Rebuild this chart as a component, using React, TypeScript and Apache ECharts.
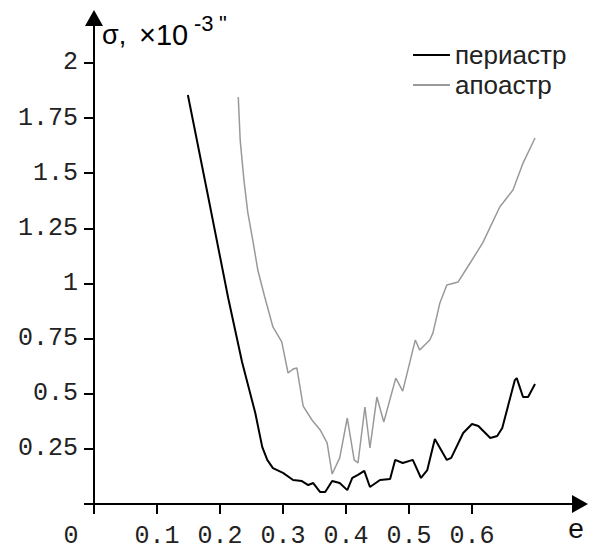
import React, { useEffect, useRef } from "react";
import * as echarts from "echarts";

// периастр (black)
const periE = [0.149, 0.181, 0.213, 0.235, 0.256, 0.267, 0.275, 0.284, 0.300, 0.316, 0.330, 0.340, 0.348, 0.359, 0.367, 0.378, 0.390, 0.402, 0.410, 0.419, 0.429, 0.438, 0.454, 0.470, 0.478, 0.490, 0.506, 0.519, 0.529, 0.541, 0.560, 0.567, 0.586, 0.600, 0.610, 0.629, 0.640, 0.648, 0.668, 0.671, 0.681, 0.689, 0.700];
const periV = [1.855, 1.397, 0.934, 0.644, 0.413, 0.259, 0.200, 0.163, 0.141, 0.109, 0.104, 0.086, 0.095, 0.054, 0.054, 0.104, 0.095, 0.063, 0.118, 0.132, 0.150, 0.077, 0.109, 0.113, 0.200, 0.186, 0.200, 0.118, 0.154, 0.295, 0.200, 0.209, 0.322, 0.363, 0.354, 0.299, 0.308, 0.345, 0.562, 0.571, 0.485, 0.485, 0.544];

// апоастр (gray)
const apoE = [0.229, 0.232, 0.238, 0.244, 0.252, 0.260, 0.271, 0.284, 0.298, 0.308, 0.316, 0.322, 0.332, 0.346, 0.359, 0.370, 0.378, 0.390, 0.402, 0.413, 0.419, 0.430, 0.438, 0.449, 0.460, 0.479, 0.490, 0.510, 0.517, 0.533, 0.538, 0.549, 0.560, 0.578, 0.597, 0.617, 0.644, 0.665, 0.681, 0.700];
const apoV = [1.846, 1.651, 1.469, 1.324, 1.197, 1.061, 0.939, 0.803, 0.735, 0.594, 0.612, 0.617, 0.444, 0.381, 0.336, 0.277, 0.136, 0.209, 0.390, 0.200, 0.186, 0.440, 0.254, 0.485, 0.372, 0.571, 0.512, 0.744, 0.698, 0.744, 0.776, 0.912, 0.993, 1.007, 1.093, 1.184, 1.347, 1.424, 1.546, 1.660];

const seriesNames = ["периастр", "апоастр"];
const xTicks = [0, 0.1, 0.2, 0.3, 0.4, 0.5, 0.6];
const yTicks = [0, 0.25, 0.5, 0.75, 1, 1.25, 1.5, 1.75, 2];
const yLabels = [0.25, 0.5, 0.75, 1, 1.25, 1.5, 1.75, 2];
const xMax = 0.7714;
const yMax = 2.204;

const zip = (a: number[], b: number[]) => a.map((v, i) => [v, b[i]]);

export default function App() {
  const ref = useRef<HTMLDivElement>(null);
  useEffect(() => {
    const chart = echarts.init(ref.current!, null, { renderer: "svg" });
    const mono = "Liberation Mono";
    const sans = "Liberation Sans";
    chart.setOption({
      animation: false,
      backgroundColor: "#fff",
      grid: { left: 94, right: 16, top: 18, bottom: 46, containLabel: false },
      legend: {
        left: 413,
        top: 42,
        padding: 0,
        orient: "vertical",
        icon: "rect",
        itemWidth: 37,
        itemHeight: 2,
        itemGap: 4,
        textStyle: { fontFamily: sans, fontSize: 26, color: "#222" },
        data: seriesNames,
      },
      xAxis: {
        type: "value",
        min: 0,
        max: xMax,
        splitLine: { show: false },
        axisLine: {
          onZero: false,
          symbol: ["none", "triangle"],
          symbolSize: [18, 16],
          lineStyle: { color: "#000", width: 2 },
        },
        axisTick: { length: 10, customValues: xTicks, lineStyle: { color: "#000", width: 2 } },
        axisLabel: {
          customValues: xTicks,
          margin: 20,
          fontFamily: mono,
          fontSize: 25,
          color: "#222",
          formatter: (v: number) => (v === 0 ? "{z|0}" : String(v)),
          rich: { z: { fontFamily: mono, fontSize: 25, color: "#222", padding: [0, 46, 0, 0] } },
        },
      },
      yAxis: {
        type: "value",
        min: 0,
        max: yMax,
        splitLine: { show: false },
        axisLine: {
          onZero: false,
          symbol: ["none", "triangle"],
          symbolSize: [18, 16],
          lineStyle: { color: "#000", width: 2 },
        },
        axisTick: { length: 10, customValues: yTicks, lineStyle: { color: "#000", width: 2 } },
        axisLabel: {
          customValues: yLabels,
          margin: 16,
          fontFamily: mono,
          fontSize: 25,
          color: "#222",
          formatter: (v: number) => String(v),
        },
      },
      graphic: [
        { type: "text", x: 102, y: 35, style: { text: "σ,", font: `27px "${sans}"`, fill: "#000", verticalAlign: "middle" } },
        { type: "text", x: 139, y: 35, style: { text: "×10", font: `29px "${sans}"`, fill: "#000", verticalAlign: "middle" } },
        { type: "text", x: 194, y: 23, style: { text: "-3", font: `22px "${sans}"`, fill: "#000", verticalAlign: "middle" } },
        { type: "text", x: 219, y: 23, style: { text: '"', font: `22px "${sans}"`, fill: "#000", verticalAlign: "middle" } },
        { type: "text", x: 576, y: 528, style: { text: "e", font: `28px "${sans}"`, fill: "#111", verticalAlign: "middle", align: "center" } },
      ],
      series: [
        {
          name: seriesNames[0],
          type: "line",
          symbol: "none",
          data: zip(periE, periV),
          lineStyle: { color: "#000", width: 2 },
          itemStyle: { color: "#000" },
        },
        {
          name: seriesNames[1],
          type: "line",
          symbol: "none",
          data: zip(apoE, apoV),
          lineStyle: { color: "#999", width: 1.5 },
          itemStyle: { color: "#999" },
        },
      ],
    });
    return () => chart.dispose();
  }, []);
  return (
    <div
      ref={ref}
      style={{ position: "fixed", left: 0, top: 0, width: 596, height: 550, background: "#fff" }}
    />
  );
}
